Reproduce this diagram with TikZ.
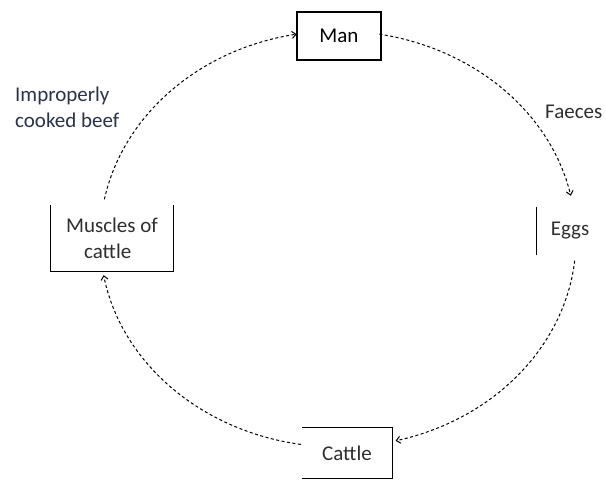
\documentclass[tikz,border=0pt]{standalone}
\usepackage{fontspec}
\setmainfont{Carlito}
\usetikzlibrary{arrows.meta,calc}
\definecolor{ink}{HTML}{2E2E2E}
\definecolor{bluish}{HTML}{2A3448}
\begin{document}
\begin{tikzpicture}[x=1pt,y=1pt,
  lbl/.style={font=\fontsize{21}{26}\selectfont, text=ink, inner sep=0pt},
  boxnode/.style={lbl, minimum width=#1, inner sep=0pt},
  edge/.style={line width=1.1pt, black},
  flow/.style={line width=1pt, black, dash pattern=on 3pt off 2.5pt, -{Straight Barb[length=4pt,width=7pt]}}]
\useasboundingbox (0,0) rectangle (606,480);
\fill[white] (0,0) rectangle (606,480);
% nodes
\node[boxnode=84, minimum height=48, draw, edge] (man) at (339,444) {Man};
\node[boxnode=122, minimum height=66, align=left] (mus) at (112,242) {Muscles of\\\hspace*{18pt}cattle};
\node[boxnode=66, minimum height=48] (egg) at (570,249) {Eggs};
\node[boxnode=90, minimum height=50] (cat) at (347,27) {Cattle};
\node[lbl, text=bluish, anchor=west, align=left] (beef) at (15,373) {Improperly\\cooked beef};
\node[lbl, anchor=west] (faeces) at (545,368) {Faeces};
% partial box borders
\draw[edge] (mus.north west) -- (mus.south west) -- (mus.south east) -- (mus.north east);
\draw[edge] (egg.north west) -- (egg.south west);
\draw[edge] (cat.south west) -- (cat.south east) -- (cat.north east) -- (cat.north west);
% cycle
\coordinate (c) at (338,241);
\coordinate (manR) at ($(c)+(80:238 and 208)$);
\coordinate (eggB) at ($(c)+(-6:238 and 208)$);
\coordinate (catL) at ($(c)+(-99:238 and 208)$);
\coordinate (musT) at ($(c)+(169:238 and 208)$);
\draw[flow] (manR) arc[start angle=80, end angle=12, x radius=238, y radius=208];
\draw[flow] (eggB) arc[start angle=-6, end angle=-76, x radius=238, y radius=208];
\draw[flow] (catL) arc[start angle=-99, end angle=-170, x radius=238, y radius=208];
\draw[flow] (musT) arc[start angle=169, end angle=100, x radius=238, y radius=208];
\end{tikzpicture}
\end{document}
